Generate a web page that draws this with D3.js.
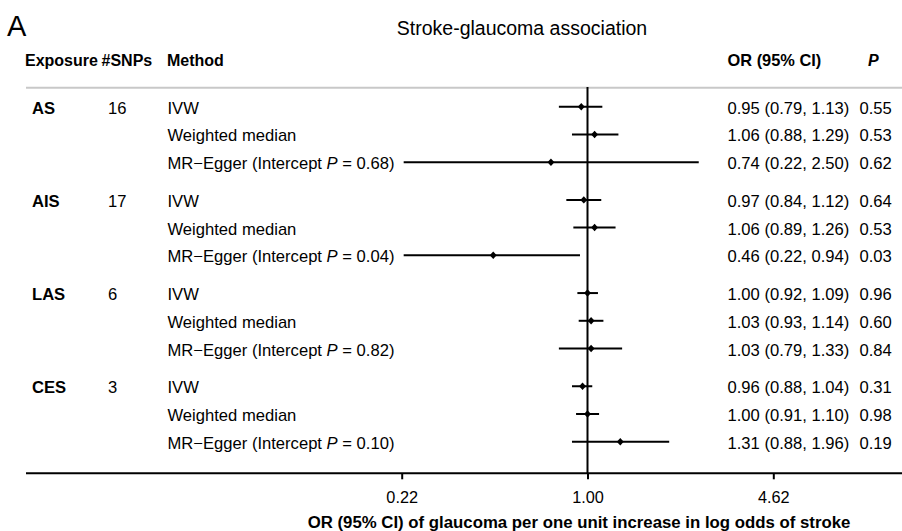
<!DOCTYPE html>
<html>
<head>
<meta charset="utf-8">
<script src="https://cdn.jsdelivr.net/npm/d3@7"></script>
<style>
  html, body { margin: 0; padding: 0; background: #fff; }
  svg { display: block; font-family: "Liberation Sans", Arial, Helvetica, sans-serif; }
</style>
</head>
<body>
<svg id="chart" width="902" height="531"></svg>
<script>
// ---- data ----
const exposures = ["AS", "AIS", "LAS", "CES"];
const nSNPs = [16, 17, 6, 3];
const methods = ["IVW", "Weighted median", "MR\u2212Egger"];
const interceptP = ["0.68", "0.04", "0.82", "0.10"];
const orValues = [0.95, 1.06, 0.74, 0.97, 1.06, 0.46, 1.00, 1.03, 1.03, 0.96, 1.00, 1.31];
const lowerCI  = [0.79, 0.88, 0.22, 0.84, 0.89, 0.22, 0.92, 0.93, 0.79, 0.88, 0.91, 0.88];
const upperCI  = [1.13, 1.29, 2.50, 1.12, 1.26, 0.94, 1.09, 1.14, 1.33, 1.04, 1.10, 1.96];
const pValues  = ["0.55", "0.53", "0.62", "0.64", "0.53", "0.03", "0.96", "0.60", "0.84", "0.31", "0.98", "0.19"];
const tickValues = [1 / 4.62, 1, 4.62];

// ---- build rows ----
const rows = [];
exposures.forEach((e, g) => {
  methods.forEach((m, k) => {
    const i = g * 3 + k;
    rows.push({ g, k, i, exposure: e, n: nSNPs[g], method: m, ip: interceptP[g],
      or: orValues[i], lo: lowerCI[i], hi: upperCI[i], p: pValues[i] });
  });
});

const svg = d3.select("#chart");
const gap = 0.361;
const y = d3.scaleLinear().domain([0, 11 + 3 * gap]).range([106.7, 441.7]);
const rowY = d => y(d.i + d.g * gap);
const x = d3.scaleLog().domain([tickValues[0], tickValues[2]]).range([401.7, 773.3]);

const FS = 16.6;

// panel letter & title
svg.append("text").attr("x", 7).attr("y", 35.5).attr("font-size", 29).text("A");
svg.append("text").attr("x", 522).attr("y", 34.5).attr("text-anchor", "middle")
  .attr("font-size", 19.5).text("Stroke-glaucoma association");

// header
const hdrY = 66.3;
const hdr = svg.append("g").attr("font-size", 16).attr("font-weight", "bold");
hdr.append("text").attr("x", 25).attr("y", hdrY).text("Exposure");
hdr.append("text").attr("x", 101.5).attr("y", hdrY).text("#SNPs");
hdr.append("text").attr("x", 167).attr("y", hdrY).text("Method");
hdr.append("text").attr("x", 727.5).attr("y", hdrY).attr("font-size", 16.4).text("OR (95% CI)");
hdr.append("text").attr("x", 868).attr("y", hdrY).attr("font-style", "italic").text("P");

// header separator
svg.append("line").attr("x1", 26).attr("x2", 902).attr("y1", 87.7).attr("y2", 87.7)
  .attr("stroke", "#c8c8c8").attr("stroke-width", 2);

// reference line at OR = 1
svg.append("line").attr("x1", x(1)).attr("x2", x(1)).attr("y1", 87).attr("y2", 473.3)
  .attr("stroke", "#000").attr("stroke-width", 2);

// row texts
const rowG = svg.append("g").attr("font-size", FS);
rows.forEach(d => {
  const yy = rowY(d) + 7;
  if (d.k === 0) {
    rowG.append("text").attr("x", 32).attr("y", yy).attr("font-weight", "bold").text(d.exposure);
    rowG.append("text").attr("x", 108).attr("y", yy).text(d.n);
  }
  const t = rowG.append("text").attr("x", 167.5).attr("y", yy);
  if (d.k === 2) {
    t.append("tspan").text(d.method + " (Intercept ");
    t.append("tspan").attr("font-style", "italic").text("P");
    t.append("tspan").text(" = " + d.ip + ")");
  } else {
    t.text(d.method);
  }
  rowG.append("text").attr("x", 727.5).attr("y", yy)
    .text(`${d3.format(".2f")(d.or)} (${d3.format(".2f")(d.lo)}, ${d3.format(".2f")(d.hi)})`);
  rowG.append("text").attr("x", 859.5).attr("y", yy).text(d.p);
});

// CI lines
svg.append("g").selectAll("line").data(rows).join("line")
  .attr("x1", d => x(d.lo)).attr("x2", d => x(d.hi))
  .attr("y1", rowY).attr("y2", rowY)
  .attr("stroke", "#000").attr("stroke-width", 2);

// point estimates (diamonds)
const diamond = {
  draw(ctx, size) {
    const r = Math.sqrt(size / 2);
    ctx.moveTo(0, -r * 1.08);
    ctx.lineTo(r, 0);
    ctx.lineTo(0, r * 1.08);
    ctx.lineTo(-r, 0);
    ctx.closePath();
  }
};
svg.append("g").selectAll("path").data(rows).join("path")
  .attr("transform", d => `translate(${x(d.or)},${rowY(d)})`)
  .attr("d", d3.symbol(diamond, 24)())
  .attr("fill", "#000");

// x axis
const axisY = 473.3;
svg.append("line").attr("x1", 26).attr("x2", 902).attr("y1", axisY).attr("y2", axisY)
  .attr("stroke", "#000").attr("stroke-width", 2);
const ax = svg.append("g").attr("transform", `translate(0,${axisY})`)
  .call(d3.axisBottom(x).tickValues(tickValues).tickFormat(d3.format(".2f")).tickSize(6).tickPadding(12));
ax.select(".domain").remove();
ax.selectAll(".tick line").attr("stroke", "#000").attr("stroke-width", 2);
ax.selectAll(".tick text").attr("font-size", 16.3).attr("fill", "#000")
  .attr("font-family", "Liberation Sans, Arial, sans-serif");

// axis title
svg.append("text").attr("x", 579).attr("y", 527.5).attr("text-anchor", "middle")
  .attr("font-size", 16.8).attr("font-weight", "bold")
  .text("OR (95% CI) of glaucoma per one unit increase in log odds of stroke");
</script>
</body>
</html>
